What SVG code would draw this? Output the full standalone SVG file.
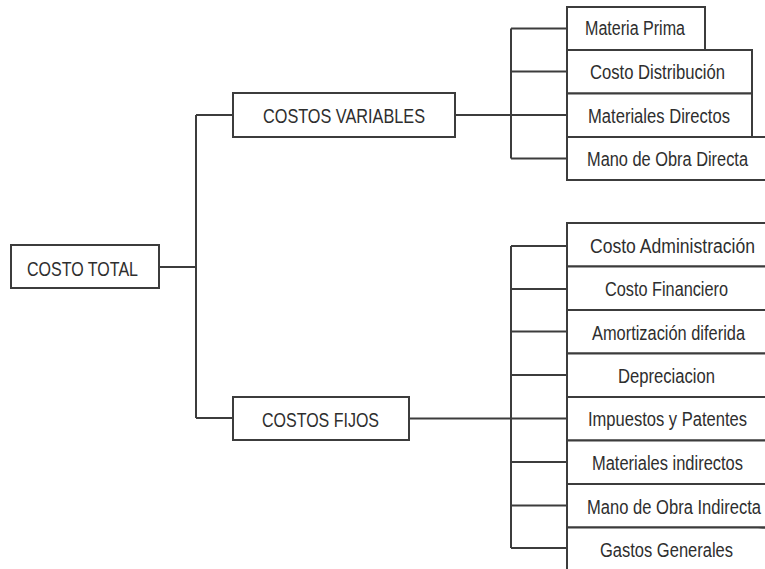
<svg xmlns="http://www.w3.org/2000/svg" width="765" height="569" viewBox="0 0 765 569">
  <style>
    .box { fill: #ffffff; stroke: #3c3c3c; stroke-width: 2; }
    .open { fill: #ffffff; stroke: #3c3c3c; stroke-width: 2; }
    .wire { fill: none; stroke: #3c3c3c; stroke-width: 2; }
    .cap { font-family: "Liberation Sans", Arial, sans-serif; font-size: 16px; fill: #2e2e2e; }
    .lbl { font-family: "Liberation Sans", Arial, sans-serif; font-size: 16px; fill: #2e2e2e; }
  </style>
  <rect width="765" height="569" fill="#ffffff"/>

  <!-- connectors -->
  <g id="connectors" class="wire">
    <path d="M159 267 H196"/>
    <path d="M196 115 V418"/>
    <path d="M196 115 H233"/>
    <path d="M196 418 H233"/>
    <!-- variable costs branch -->
    <path d="M455 115 H511"/>
    <path d="M511 28.5 V158.5"/>
    <path d="M511 28.5 H567 M511 71.5 H567 M511 115 H567 M511 158.5 H567"/>
    <!-- fixed costs branch -->
    <path d="M409 418.5 H511"/>
    <path d="M511 246 V548"/>
    <path d="M511 246 H567 M511 289 H567 M511 331.5 H567 M511 375 H567 M511 418.5 H567 M511 462 H567 M511 505.5 H567 M511 548 H567"/>
  </g>

  <!-- labels use a tall, narrow face: 16px glyphs stretched 1.22x vertically -->
  <g id="costo-total">
    <rect class="box" x="11" y="245" width="148" height="43"/>
    <text class="cap" transform="translate(27 275.5) scale(1 1.22)" textLength="111" lengthAdjust="spacingAndGlyphs">COSTO TOTAL</text>
  </g>

  <g id="costos-variables">
    <rect class="box" x="233" y="93" width="222" height="44"/>
    <text class="cap" transform="translate(263 123) scale(1 1.22)" textLength="162" lengthAdjust="spacingAndGlyphs">COSTOS VARIABLES</text>
  </g>

  <g id="costos-fijos">
    <rect class="box" x="233" y="397" width="176" height="43"/>
    <text class="cap" transform="translate(262 426.5) scale(1 1.22)" textLength="117" lengthAdjust="spacingAndGlyphs">COSTOS FIJOS</text>
  </g>

  <!-- variable cost items -->
  <g id="materia-prima">
    <rect class="box" x="567" y="7" width="138" height="43"/>
    <text class="lbl" transform="translate(585 35) scale(1 1.22)" textLength="100" lengthAdjust="spacingAndGlyphs">Materia Prima</text>
  </g>
  <g id="costo-distribucion">
    <rect class="box" x="567" y="50" width="185" height="43.5"/>
    <text class="lbl" transform="translate(590 79) scale(1 1.22)" textLength="135" lengthAdjust="spacingAndGlyphs">Costo Distribución</text>
  </g>
  <g id="materiales-directos">
    <rect class="box" x="567" y="93.5" width="185" height="43.5"/>
    <text class="lbl" transform="translate(588 122.5) scale(1 1.22)" textLength="142" lengthAdjust="spacingAndGlyphs">Materiales Directos</text>
  </g>
  <!-- boxes below run on past the right border: drawn open on that side -->
  <g id="mano-obra-directa">
    <path class="open" d="M765 137 H567 V180 H765"/>
    <text class="lbl" transform="translate(587 166) scale(1 1.22)" textLength="161" lengthAdjust="spacingAndGlyphs">Mano de Obra Directa</text>
  </g>

  <!-- fixed cost items -->
  <g id="costo-administracion">
    <path class="open" d="M765 223 H567 V266.5 H765"/>
    <text class="lbl" transform="translate(590 253) scale(1 1.22)" textLength="165" lengthAdjust="spacingAndGlyphs">Costo Administración</text>
  </g>
  <g id="costo-financiero">
    <path class="open" d="M765 266.5 H567 V310 H765"/>
    <text class="lbl" transform="translate(605 296) scale(1 1.22)" textLength="123" lengthAdjust="spacingAndGlyphs">Costo Financiero</text>
  </g>
  <g id="amortizacion-diferida">
    <path class="open" d="M765 310 H567 V353.5 H765"/>
    <text class="lbl" transform="translate(592 339.5) scale(1 1.22)" textLength="153" lengthAdjust="spacingAndGlyphs">Amortización diferida</text>
  </g>
  <g id="depreciacion">
    <path class="open" d="M765 353.5 H567 V397 H765"/>
    <text class="lbl" transform="translate(618 382.5) scale(1 1.22)" textLength="97" lengthAdjust="spacingAndGlyphs">Depreciacion</text>
  </g>
  <g id="impuestos-patentes">
    <path class="open" d="M765 397 H567 V440.5 H765"/>
    <text class="lbl" transform="translate(588 426) scale(1 1.22)" textLength="159" lengthAdjust="spacingAndGlyphs">Impuestos y Patentes</text>
  </g>
  <g id="materiales-indirectos">
    <path class="open" d="M765 440.5 H567 V484 H765"/>
    <text class="lbl" transform="translate(592 469.5) scale(1 1.22)" textLength="151" lengthAdjust="spacingAndGlyphs">Materiales indirectos</text>
  </g>
  <g id="mano-obra-indirecta">
    <path class="open" d="M765 484 H567 V527.5 H765"/>
    <text class="lbl" transform="translate(587 514) scale(1 1.22)" textLength="174" lengthAdjust="spacingAndGlyphs">Mano de Obra Indirecta</text>
  </g>
  <g id="gastos-generales">
    <path class="open" d="M765 527.5 H567 V569"/>
    <text class="lbl" transform="translate(600 556.5) scale(1 1.22)" textLength="133" lengthAdjust="spacingAndGlyphs">Gastos Generales</text>
  </g>
</svg>
